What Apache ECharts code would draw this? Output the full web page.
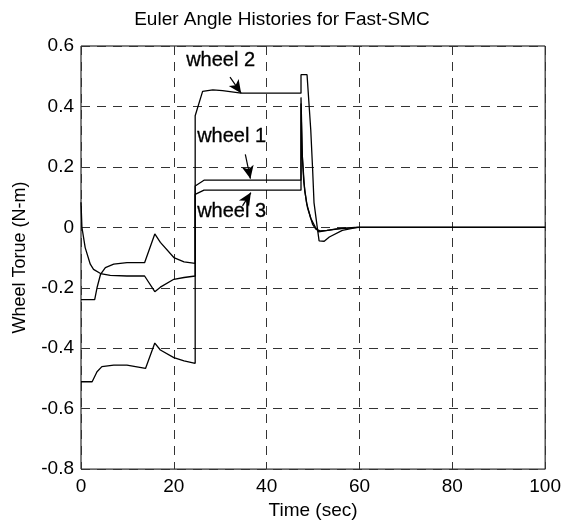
<!DOCTYPE html>
<html>
<head>
<meta charset="utf-8">
<script src="https://cdn.jsdelivr.net/npm/echarts@6/dist/echarts.min.js"></script>
<style>
  html, body { margin: 0; padding: 0; background: #fff; }
  #chart { width: 564px; height: 525px; }
</style>
</head>
<body>
<div id="chart"></div>
<script>
// time (sec) and torque (N-m), one pair per wheel
const w1Time = [0, 0.2, 0.9, 2.0, 2.7, 4.2, 6.3, 9.9, 13.7, 15.9, 17.1, 20.0, 22.2, 24.6, 24.6, 26.5, 47.4, 47.4, 47.7, 48.2, 48.8, 49.9, 50.6, 51.5, 53, 56, 60, 100]
const w1Torque = [0.083, 0, -0.067, -0.122, -0.139, -0.153, -0.159, -0.161, -0.161, -0.213, -0.198, -0.172, -0.166, -0.161, 0.137, 0.156, 0.156, 0.43, 0.23, 0.12, 0.065, 0.01, -0.006, -0.012, -0.01, -0.004, 0, 0]

const w2Time = [0, 2.4, 3.45, 4.5, 7.05, 9.9, 13.9, 15.9, 17.1, 20.0, 22.2, 24.6, 24.6, 26.2, 28.4, 30.5, 34.5, 47.4, 47.4, 48.7, 49.5, 49.9, 50.2, 50.9, 51.3, 52.4, 53.5, 56.3, 59.5, 100]
const w2Torque = [-0.511, -0.511, -0.478, -0.461, -0.456, -0.456, -0.467, -0.383, -0.406, -0.431, -0.442, -0.45, 0.369, 0.45, 0.455, 0.452, 0.444, 0.444, 0.505, 0.505, 0.323, 0.192, 0.082, 0, -0.045, -0.046, -0.032, -0.01, 0, 0]

const w3Time = [0, 2.95, 3.45, 4.2, 5.25, 7.05, 9.9, 13.7, 15.9, 17.1, 20.0, 22.2, 24.6, 24.6, 26.5, 47.4, 47.4, 47.6, 48.0, 48.6, 49.5, 50.5, 51.2, 52.5, 55, 59, 100]
const w3Torque = [-0.239, -0.239, -0.2, -0.156, -0.133, -0.122, -0.117, -0.117, -0.022, -0.05, -0.1, -0.114, -0.119, 0.109, 0.123, 0.123, 0.41, 0.26, 0.15, 0.08, 0.03, 0.0, -0.015, -0.012, -0.005, 0, 0]

const xTicks = [0, 20, 40, 60, 80, 100]
const yTicks = [-0.8, -0.6, -0.4, -0.2, 0, 0.2, 0.4, 0.6]

// arrow start / end for the wheel labels, in data units
const arrows = [
  [[32.1, 0.497], [34.5, 0.444]],
  [[35.4, 0.241], [36.5, 0.161]],
  [[34.8, 0.071], [36.6, 0.115]]
]

const font = 'Liberation Sans, Arial, sans-serif'
const pair = (t, v) => t.map((x, i) => [x, v[i]])

const lineSeries = (name, t, v) => ({
  name,
  type: 'line',
  data: pair(t, v),
  showSymbol: false,
  symbol: 'none',
  lineStyle: { color: '#000', width: 1.3 },
  animation: false
})

const chart = echarts.init(document.getElementById('chart'))

const series = [
  lineSeries('wheel 1', w1Time, w1Torque),
  lineSeries('wheel 2', w2Time, w2Torque),
  lineSeries('wheel 3', w3Time, w3Torque)
]
// arrows hang off the first series
series[0].markLine = {
  silent: true,
  animation: false,
  symbol: ['none', 'arrow'],
  symbolSize: [9, 13],
  label: { show: false },
  lineStyle: { color: '#000', type: 'solid', width: 1.2 },
  data: arrows.map(a => [{ coord: a[0] }, { coord: a[1] }])
}

const wheelText = (text, left, top) => ({
  type: 'text',
  left,
  top,
  style: { text, font: '20px ' + font, fill: '#000', stroke: '#000', lineWidth: 0.3 }
})

chart.setOption({
  backgroundColor: '#fff',
  title: {
    text: 'Euler Angle Histories for Fast-SMC',
    left: 'center',
    top: 5,
    textStyle: { fontFamily: font, fontSize: 19, fontWeight: 'normal', color: '#000' }
  },
  grid: {
    left: 81, right: 17, top: 46, bottom: 54,
    show: true, borderColor: '#000', borderWidth: 1
  },
  xAxis: {
    type: 'value',
    min: xTicks[0],
    max: xTicks[xTicks.length - 1],
    interval: 20,
    name: 'Time (sec)',
    nameLocation: 'middle',
    nameGap: 31,
    nameTextStyle: { fontFamily: font, fontSize: 19, color: '#000' },
    axisLine: { show: false },
    axisTick: { show: false },
    axisLabel: { fontFamily: font, fontSize: 19, color: '#000', margin: 8 },
    splitLine: { show: true, lineStyle: { color: '#333', type: [9, 7], width: 1 } }
  },
  yAxis: {
    type: 'value',
    min: yTicks[0],
    max: yTicks[yTicks.length - 1],
    interval: 0.2,
    name: 'Wheel Torue (N-m)',
    nameLocation: 'middle',
    nameGap: 52,
    nameTextStyle: { fontFamily: font, fontSize: 18, color: '#000' },
    axisLine: { show: false },
    axisTick: { show: false },
    axisLabel: {
      fontFamily: font, fontSize: 19, color: '#000', margin: 7,
      formatter: v => Math.abs(v) < 1e-9 ? '0' : v.toFixed(1)
    },
    splitLine: { show: true, lineStyle: { color: '#333', type: [9, 7], width: 1 } }
  },
  graphic: [
    wheelText('wheel 2', 186, 50),
    wheelText('wheel 1', 197, 126),
    wheelText('wheel 3', 197, 201)
  ],
  series
})
</script>
</body>
</html>
